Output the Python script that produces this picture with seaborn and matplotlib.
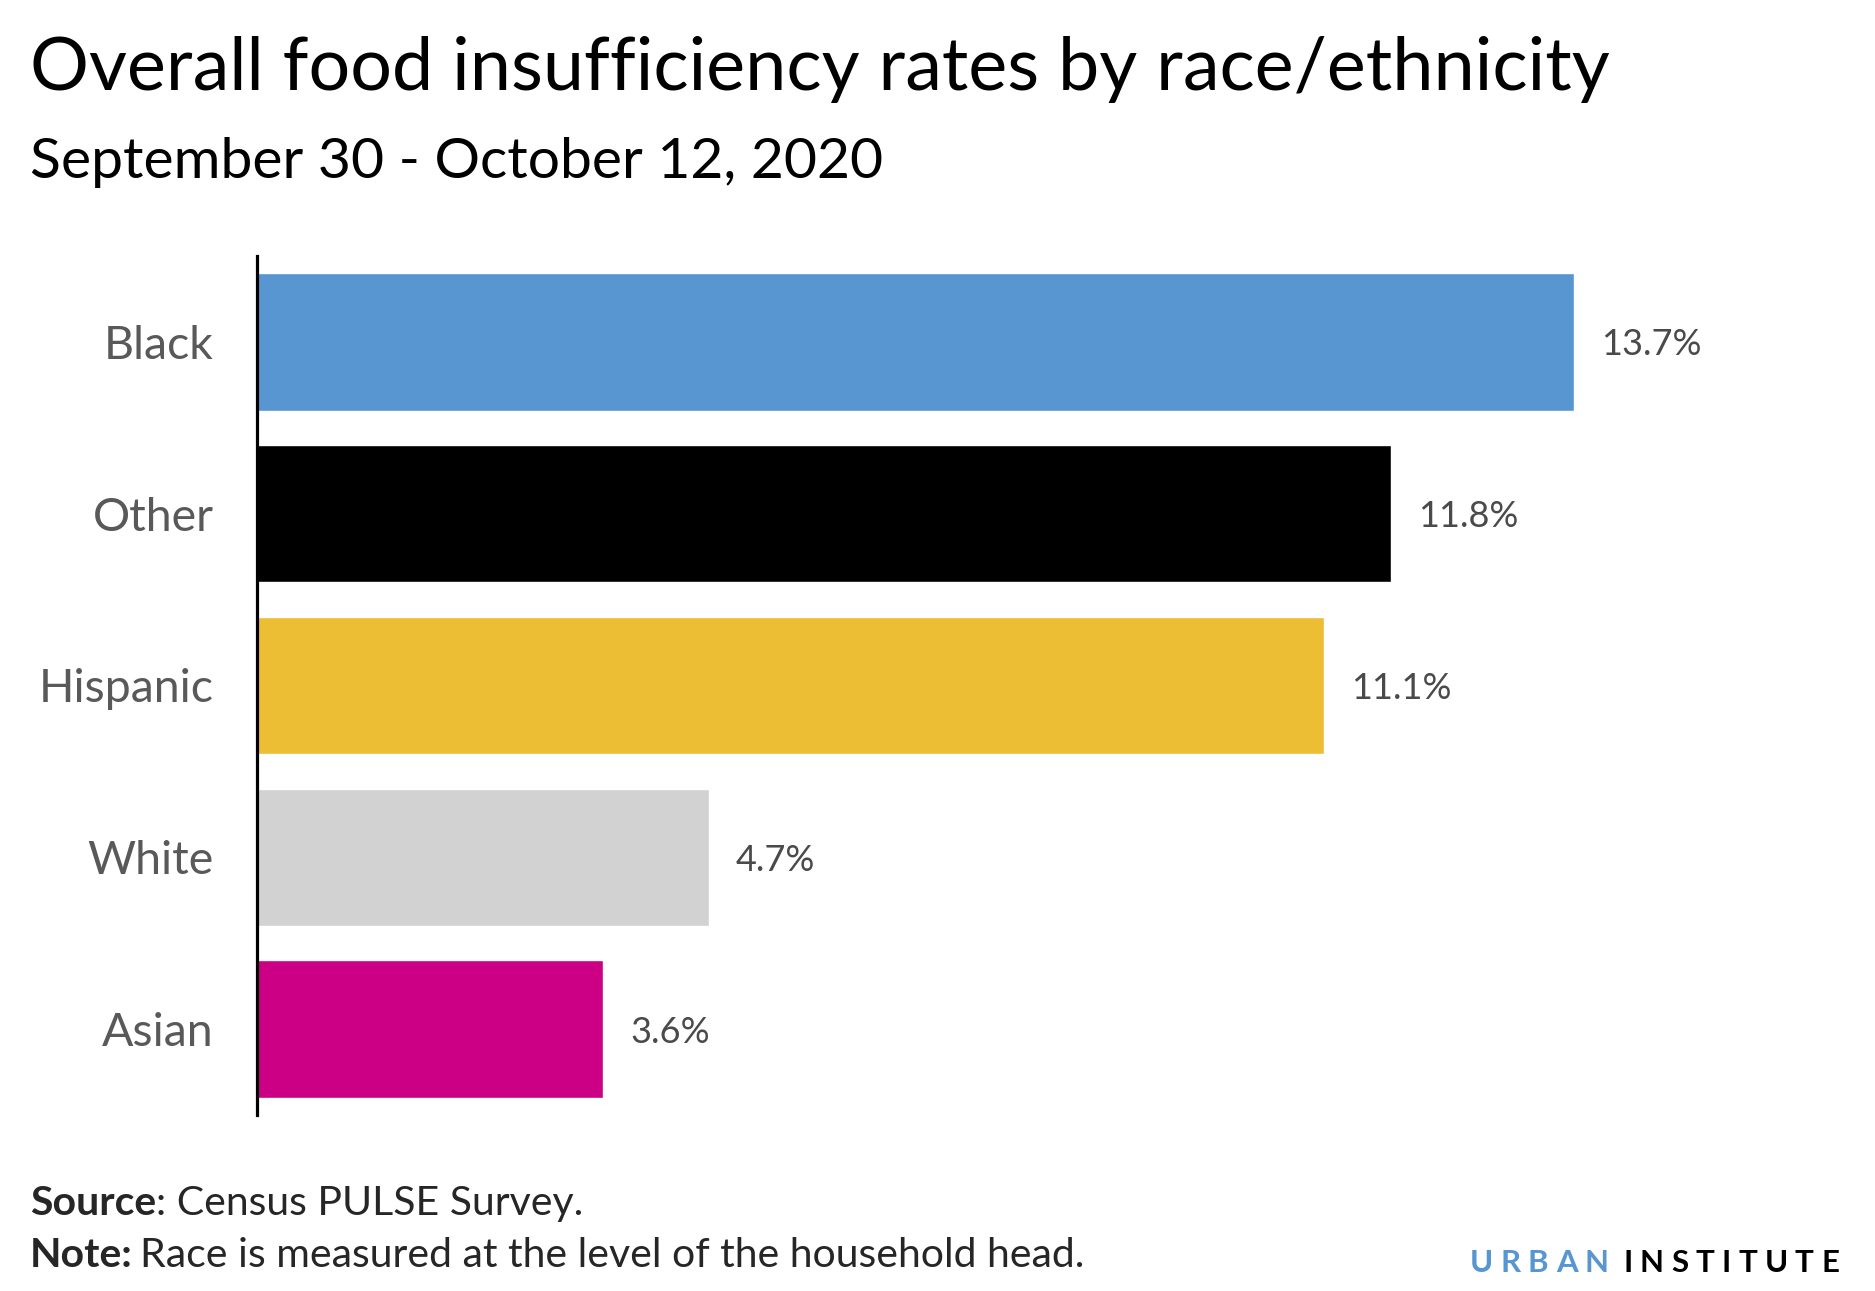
import matplotlib
matplotlib.use("Agg")
import matplotlib.pyplot as plt
import seaborn as sns
import pandas as pd

# ==========================================
# DATA
# ==========================================

groups = ["Black", "Other", "Hispanic", "White", "Asian"]
rates = [13.7, 11.8, 11.1, 4.7, 3.6]
bar_colors = ["#5796d1", "#000000", "#ecbe34", "#d2d2d2", "#cb0085"]

title = "Overall food insufficiency rates by race/ethnicity"
subtitle = "September 30 - October 12, 2020"

df = pd.DataFrame({"group": groups, "rate": rates})

# ==========================================
# STYLE
# ==========================================

sns.set_theme(style="white")
plt.rcParams["font.family"] = ["Lato", "DejaVu Sans"]

W, H = 1875, 1291
fig = plt.figure(figsize=(W / 100, H / 100), dpi=100)

ax = fig.add_axes([
    257 / W,
    1 - 1115 / H,
    (1800 - 257) / W,
    (1115 - 256) / H
])

sns.barplot(
    data=df,
    x="rate",
    y="group",
    hue="group",
    palette=bar_colors,
    order=groups,
    orient="h",
    width=0.8,
    legend=False,
    saturation=1,
    ax=ax
)

ax.set_xlim(0, 16.05)
ax.set_ylim(len(groups) - 0.5, -0.5)

for s in ["top", "right", "bottom"]:
    ax.spines[s].set_visible(False)
ax.spines["left"].set_color("black")
ax.spines["left"].set_linewidth(2.3)

ax.set_xticks([])
ax.set_xlabel("")
ax.set_ylabel("")
ax.tick_params(axis="y", length=0, pad=31, labelsize=33.5, labelcolor="#595959")

# value labels
for i, v in enumerate(rates):
    ax.annotate(
        f"{v}%",
        xy=(v, i),
        xytext=(27, -3),
        textcoords="offset pixels",
        va="center",
        ha="left",
        fontsize=26,
        color="#4a4a4a"
    )

# ==========================================
# TITLES AND NOTES
# ==========================================

fig.text(30 / W, 1 - 90 / H, title, fontsize=53, color="black", va="baseline")
fig.text(30 / W, 1 - 178 / H, subtitle, fontsize=41, color="black", va="baseline")

fig.canvas.draw()
renderer = fig.canvas.get_renderer()

note_size = 29.5

s1 = fig.text(30 / W, 1 - 1215 / H, "Source", fontsize=note_size,
              va="baseline", fontweight="bold")
bb = s1.get_window_extent(renderer)
fig.text(bb.x1 / W, 1 - 1215 / H, ": Census PULSE Survey.",
         fontsize=note_size, va="baseline")

n1 = fig.text(30 / W, 1 - 1267 / H, "Note:", fontsize=note_size,
              va="baseline", fontweight="bold")
bb = n1.get_window_extent(renderer)
fig.text((bb.x1 + 7) / W, 1 - 1267 / H,
         "Race is measured at the level of the household head.",
         fontsize=note_size, va="baseline")

# ==========================================
# LOGO
# ==========================================

x = 1470
for word, col in [("URBAN", "#5796d1"), ("INSTITUTE", "black")]:
    for ch in word:
        t = fig.text(x / W, 1 - 1272 / H, ch, fontsize=22.5, fontweight="bold",
                     color=col, va="baseline")
        b = t.get_window_extent(renderer)
        x += b.width + 7.3
    x += 7

fig.savefig("out.png", dpi=100, facecolor="white")
